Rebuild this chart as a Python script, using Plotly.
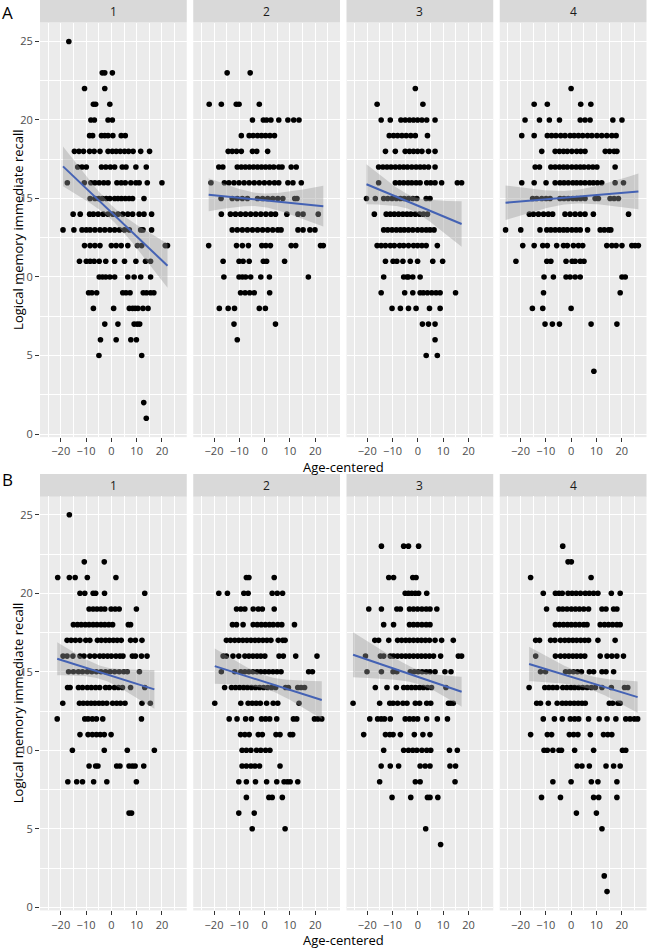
import numpy as np
import plotly.graph_objects as go

# ---------------- data ----------------
# Each panel: list of memory scores (rows) and, for each score, the age-centered values
A1_SCORE = [25, 23, 22, 21, 20, 19, 18, 17, 16, 15, 14, 13, 12, 11, 10, 9, 8, 7, 6, 5, 2, 1]
A1_AGE = [
    [-16.8],
    [-3.6, -2.6, 0.4],
    [-10.6, -2.6],
    [-7.1, -6.2, -0.6],
    [-8.1, -6.7, -1.3, 0.4],
    [-8.6, -7.4, -3.9, -2.6, -1.3, 0.6, 3.9, 5.5],
    [-14.6, -12.8, -11.0, -8.6, -6.8, -4.5, -1.3, 0.4, 1.9, 3.5, 5.2, 6.8, 8.6, 11.6, 15.1],
    [-13.3, -11.6, -9.9, -3.9, -2.2, -0.4, 1.3, 4.3, 5.8, 9.7, 13.8],
    [-17.4, -10.7, -8.1, -6.5, -4.8, -3.0, -1.3, 2.2, 3.9, 5.5, 7.7, 9.7, 11.0, 14.2, 20.0],
    [-8.4, -6.5, -5.0, -3.5, -2.0, -0.6, 1.3, 2.6, 4.0, 5.5, 7.0, 8.4, 12.9],
    [-15.1, -12.3, -8.6, -7.1, -5.2, -3.2, -1.3, 0.6, 2.6, 4.5, 6.5, 8.4, 11.0, 12.9, 15.9],
    [-19.1, -14.8, -11.6, -9.9, -8.4, -6.5, -4.5, -2.6, -0.6, 1.3, 3.2, 5.2, 7.1, 11.6, 12.5, 15.9],
    [-10.6, -8.4, -6.5, -4.5, 0.0, 1.9, 3.9, 6.5, 10.3, 12.0, 21.3, 22.2],
    [-12.6, -9.9, -8.4, -6.8, -4.8, -2.2, 1.3, 5.2, 9.7, 13.5, 15.5],
    [-4.8, -3.5, -2.2, -0.6, 1.3, 6.5, 9.0, 11.6, 15.5],
    [-9.0, -7.7, -5.8, 4.5, 5.8, 7.4, 12.6, 13.9, 15.5, 16.8],
    [-7.1, 0.9, 7.1, 8.4, 9.4, 10.5, 12.5, 14.5],
    [-2.6, 2.6, 9.0, 10.2, 11.2],
    [-4.3, 1.9, 7.7, 9.9],
    [-4.9, 12.0],
    [12.8],
    [13.8],
]

A2_SCORE = [23, 21, 20, 19, 18, 17, 16, 15, 14, 13, 12, 11, 10, 9, 8, 7, 6]
A2_AGE = [
    [-14.8, -5.7],
    [-21.9, -17.1, -11.2, -10.1, -2.1],
    [-4.8, -0.5, 0.8, 2.5, 5.6, 9.2, 11.5, 13.6],
    [-9.2, -6.1, -4.5, -2.8, -1.2, 0.4, 2.1, 3.9],
    [-14.4, -12.8, -11.1, -9.2, -4.8, -3.1, 1.2],
    [-18.1, -16.5, -10.8, -9.2, -7.6, -6.0, -4.4, -2.8, -1.2, 0.4, 2.0, 3.6, 5.6, 6.9, 10.5, 12.5],
    [-21.2, -15.9, -14.1, -12.1, -10.1, -8.1, -6.1, -4.1, -2.1, -0.1, 1.9, 3.9, 5.6, 9.2, 11.2, 14.5],
    [-17.2, -12.8, -10.8, -8.8, -6.8, -2.8, -0.8, 1.2, 3.2, 5.2, 7.2, 11.9, 12.8],
    [-17.1, -13.5, -11.5, -9.5, -7.5, -5.5, -3.5, -1.5, 0.5, 2.5, 4.3, 8.8, 13.2, 15.2, 21.2],
    [-12.8, -10.8, -8.8, -6.8, -4.8, -2.8, -0.8, 1.2, 3.2, 5.2, 6.5, 13.2, 15.2, 17.9, 19.9],
    [-22.1, -11.1, -8.8, -6.4, -1.1, 0.5, 2.3, 10.5, 12.3, 22.1, 23.2],
    [-16.4, -10.1, -8.5, -6.1, -0.5, 0.8, 7.9],
    [-16.1, -10.1, -8.8, -7.5, -5.5, -1.5, 1.9, 17.3],
    [-9.5, -7.7, -5.9, -4.1, 2.0],
    [-17.9, -14.4, -11.9, -2.1, 0.3],
    [-12.1, 4.3],
    [-10.8],
]

A3_SCORE = [22, 21, 20, 19, 18, 17, 16, 15, 14, 13, 12, 11, 10, 9, 8, 7, 6, 5]
A3_AGE = [
    [-1.0],
    [-16.1, 2.0],
    [-14.5, -10.9, -6.7, -5.0, -3.3, -1.7, -0.1, 1.6, 3.5, 6.8],
    [-11.3, -9.6, -8.0, -6.3, -4.6, -2.8, -1.0, 3.8],
    [-12.8, -8.9, -5.0, -3.3, -1.7, -0.1, 1.6, 4.2, 6.8],
    [-15.5, -13.8, -12.2, -10.6, -8.9, -7.2, -5.6, -4.1, -2.4, -0.7, 0.9, 2.5, 4.2, 6.8],
    [-15.5, -8.9, -7.2, -5.6, -3.9, -2.4, -0.7, 0.9, 3.5, 5.1, 6.8, 9.4, 15.6, 17.3],
    [-20.3, -16.8, -13.5, -11.9, -10.2, -8.5, -6.9, -5.4, -3.7, -2.0, -0.4, 3.3, 4.8],
    [-17.2, -12.5, -10.9, -9.3, -7.6, -5.9, -4.3, -2.8, -1.0, 0.7, 2.2, 3.8],
    [-13.5, -11.9, -10.2, -8.5, -6.9, -5.4, -3.7, -2.0, -0.1, 1.6, 3.3, 4.8, 6.4],
    [-16.1, -14.5, -12.8, -10.9, -9.3, -7.2, -5.6, -3.7, -1.7, -0.1, 1.6, 3.3, 7.7],
    [-12.8, -9.8, -8.3, -5.9, -3.0, -0.1, 5.9, 9.8],
    [-13.5, -5.6, -4.3, -3.7, -2.0, 0.9],
    [-14.5, -5.2, -2.0, 0.9, 2.2, 3.8, 5.5, 7.2, 8.8, 14.9],
    [-10.2, -6.9, -3.7, -0.7, 4.6, 8.8],
    [1.8, 4.2, 6.8],
    [6.8],
    [3.3, 7.7],
]

A4_SCORE = [22, 21, 20, 19, 18, 17, 16, 15, 14, 13, 12, 11, 10, 9, 8, 7, 4]
A4_AGE = [
    [0.0],
    [-14.6, -9.4, 3.8, 7.8],
    [-18.2, -12.5, -8.6, -4.6, 3.6, 5.5, 7.5, 16.5, 20.1],
    [-19.5, -14.6, -9.4, -7.7, -6.0, -4.1, -2.4, -0.4, 1.2, 2.9, 4.6, 6.5, 8.2, 10.2, 12.1, 14.1, 16.1, 17.8],
    [-11.6, -6.3, -4.6, -3.0, -1.5, 0.3, 2.2, 3.8, 5.5, 13.5, 15.2, 17.0, 18.1],
    [-14.2, -12.5, -8.0, -6.3, -4.6, -3.0, -1.5, 0.3, 2.0, 3.6, 5.1, 6.9, 8.6, 10.2, 17.4],
    [-19.5, -14.6, -9.9, -6.3, -4.4, -2.8, -1.1, 0.7, 2.2, 3.8, 5.5, 7.3, 8.8, 10.4, 12.1, 17.4, 20.7],
    [-15.2, -13.6, -11.6, -9.9, -8.3, -4.4, -2.8, -1.1, 0.7, 2.2, 3.8, 5.5, 9.5, 10.8, 15.4, 17.0, 18.7],
    [-16.5, -14.9, -12.9, -10.9, -9.0, -7.3, -2.4, -0.4, 1.6, 3.6, 5.5, 8.8, 22.7],
    [-25.9, -19.9, -12.3, -9.6, -8.0, -6.3, -4.6, -3.0, -1.5, 0.3, 2.0, 3.6, 6.5, 11.5, 13.1, 14.8, 15.7],
    [-19.1, -14.6, -11.2, -9.4, -5.7, -3.0, -1.5, 0.9, 2.9, 4.6, 14.1, 16.1, 17.8, 20.1, 24.0, 25.3, 26.6],
    [-21.8, -9.6, -8.0, -2.0, 0.4, 1.6, 3.6, 5.1],
    [-10.7, -7.0, -2.0, -0.4, 1.6, 3.6, 20.1, 21.4],
    [-10.9, 19.4],
    [-15.3, -11.2, 0.0],
    [-10.3, -7.4, -4.6, 7.9, 18.1],
    [9.0],
]

B1_SCORE = [25, 22, 21, 20, 19, 18, 17, 16, 15, 14, 13, 12, 11, 10, 9, 8, 6]
B1_AGE = [
    [-16.6],
    [-10.7, -2.8],
    [-21.2, -16.6, -14.3, -9.5, 1.8],
    [-12.4, -10.5, -7.2, -6.2, -2.7, 13.2],
    [-8.8, -7.2, -5.7, -4.1, -2.6, -0.1, 1.5, 3.1, 9.9],
    [-15.0, -13.4, -11.9, -10.3, -8.8, -7.2, -5.7, -4.1, -2.6, -1.0, 0.5, 6.7, 7.6],
    [-17.5, -15.9, -14.2, -12.4, -10.1, -8.5, -5.5, -4.0, -2.3, -0.8, 0.8, 2.3, 3.9, 7.6, 9.5, 12.1],
    [-19.1, -17.5, -15.2, -12.4, -10.8, -8.5, -6.6, -4.6, -3.1, -1.5, 0.0, 1.8, 3.4, 4.6, 8.3, 9.5, 11.9, 14.1],
    [-16.9, -15.0, -13.0, -11.4, -9.5, -7.7, -5.9, -4.1, -2.3, -0.5, 1.3, 3.1, 4.9, 6.3, 11.1],
    [-17.3, -16.3, -13.0, -11.4, -9.5, -7.9, -6.2, -4.6, -2.3, -0.8, 1.2, 2.8, 4.4, 7.6, 13.2],
    [-19.2, -12.6, -11.1, -9.5, -8.0, -6.5, -4.9, -3.4, -1.8, 0.5, 2.1, 3.6, 5.4, 12.1, 15.4],
    [-21.4, -10.5, -9.2, -7.5, -5.9, -3.4, 11.9],
    [-12.4, -9.2, -7.5, -5.9, -4.4, -2.8, -0.1],
    [-15.4, -2.8, 6.3, 17.0],
    [-8.8, -6.2, -5.3, 2.1, 3.4, 7.0, 8.3, 9.4, 12.8],
    [-17.2, -13.7, -11.4, -7.0, -1.8, 9.9],
    [7.0, 8.0],
]

B2_SCORE = [21, 20, 19, 18, 17, 16, 15, 14, 13, 12, 11, 10, 9, 8, 7, 6, 5]
B2_AGE = [
    [-7.2, -6.2, 3.8],
    [-18.1, -14.7, -8.2, -6.5, 3.0, 5.0, 7.1],
    [-11.1, -9.4, -7.8, -4.5, -2.5, -0.9, 3.8],
    [-12.7, -11.1, -8.5, -4.5, -2.9, -1.3, 0.3, 1.9, 3.4, 5.2, 6.8, 11.8],
    [-15.1, -13.5, -11.8, -10.2, -8.6, -7.0, -5.4, -3.8, -2.3, -0.7, 0.9, 2.5, 5.4, 7.2, 8.1],
    [-16.4, -15.1, -12.5, -10.2, -7.8, -6.2, -4.6, -3.0, -1.5, 0.1, 5.7, 7.4, 12.3, 20.7],
    [-17.1, -11.8, -9.4, -7.8, -6.2, -4.6, -3.0, -1.5, 0.1, 1.7, 3.3, 4.9, 6.5, 17.4, 18.9],
    [-15.8, -13.1, -11.5, -9.9, -8.3, -6.8, -5.2, -3.6, -2.0, -0.4, 1.2, 2.8, 4.4, 8.3, 9.4, 13.1, 14.4, 15.8],
    [-19.7, -9.4, -6.5, -4.9, -3.3, -1.7, 0.8, 3.4, 5.2, 13.6],
    [-14.0, -10.9, -7.5, -5.2, -1.2, 0.4, 2.0, 4.8, 11.4, 12.7, 19.7, 21.1, 22.6],
    [-9.5, -7.8, -6.1, -2.5, -0.9, 4.5, 6.1, 10.1, 11.1],
    [-8.9, -7.2, -5.4, -3.2, -1.5, 0.4, 2.1],
    [-8.9, -7.2, -5.4, -3.8, -2.0, 6.1],
    [-10.2, -7.2, -3.6, 0.8, 4.8, 7.7, 9.0, 10.1, 13.1],
    [-7.2, 1.7, 3.0, 7.0],
    [-10.2, -4.1],
    [-4.9, 8.1],
]

B3_SCORE = [23, 21, 20, 19, 18, 17, 16, 15, 14, 13, 12, 11, 10, 9, 8, 7, 5, 4]
B3_AGE = [
    [-14.4, -5.6, -3.7, 0.3],
    [-11.5, -9.6, -2.0, -0.7],
    [-5.0, -3.7, -2.4, -1.0, 0.3, 3.5],
    [-19.4, -14.4, -8.3, -6.9, -3.3, -1.7, -0.1, 1.6, 3.3, 4.8, 7.5],
    [-13.5, -9.6, -3.3, -1.7, -0.1, 1.6, 3.3, 4.8],
    [-17.0, -15.5, -11.5, -8.0, -6.4, -4.8, -3.3, -1.7, -0.1, 1.4, 3.0, 4.6, 6.8, 9.4, 14.0],
    [-20.7, -14.8, -13.5, -10.9, -9.6, -8.0, -6.4, -4.8, -3.3, -1.7, -0.1, 1.4, 3.0, 4.6, 6.2, 9.0, 16.0, 17.3],
    [-20.1, -14.4, -9.8, -8.3, -3.0, -1.4, 0.1, 1.7, 3.3, 4.8, 6.8, 10.7, 13.1],
    [-16.8, -12.2, -8.5, -5.6, -4.1, -2.5, -0.9, 0.7, 2.2, 3.8, 5.4, 11.1],
    [-25.6, -15.1, -11.1, -9.8, -8.0, -5.9, -4.3, -1.0, 0.7, 3.5, 5.1, 12.1, 13.0, 14.0],
    [-19.0, -15.9, -14.5, -13.2, -10.9, -5.0, -3.3, -1.7, -0.1, 3.5, 7.7, 11.7],
    [-21.4, -12.8, -11.1, -9.8, -6.9, -1.4, 2.0, 4.8],
    [-13.5, -5.6, -3.7, -2.0, -0.4, 1.6, 3.5, 5.1, 12.5, 15.6],
    [-14.5, -10.9, -7.6, 0.9, 2.9, 4.8, 12.7, 14.9],
    [-15.1, -1.0, 0.9, 14.7],
    [-10.2, -2.8, 3.8, 4.8, 7.9],
    [3.1],
    [9.0],
]

B4_SCORE = [23, 22, 21, 20, 19, 18, 17, 16, 15, 14, 13, 12, 11, 10, 9, 8, 7, 6, 5, 2, 1]
B4_AGE = [
    [-3.3],
    [-1.2, 0.1],
    [-16.0, 7.9],
    [-11.0, -6.2, -4.8, -3.5, -1.2, 0.4, 2.0, 3.7, 5.6, 7.2, 8.9, 10.6, 15.9, 19.4],
    [-9.7, -4.8, -3.3, -1.6, 0.1, 1.7, 3.3, 5.0, 6.9, 12.2, 13.8, 16.8, 18.1],
    [-6.2, -4.6, -3.0, -1.4, 0.1, 1.7, 3.3, 5.0, 6.3, 11.5, 13.2, 14.8, 16.4, 18.1, 19.4],
    [-14.0, -12.5, -8.1, -6.4, -4.2, -2.5, -0.9, 0.7, 2.2, 3.8, 5.4, 6.9, 10.6, 17.4],
    [-14.0, -6.2, -4.2, -2.5, -0.9, 0.7, 2.2, 3.8, 5.4, 11.5, 14.2, 16.1, 18.1, 20.7],
    [-12.1, -10.1, -2.2, -0.7, 0.9, 2.5, 4.1, 7.2, 8.9, 12.2, 13.8, 16.8],
    [-16.6, -10.4, -8.8, -7.2, -5.6, -3.3, -1.7, -0.1, 1.4, 3.0, 4.6, 6.3, 8.0, 9.6, 12.2, 15.9, 21.1, 22.4],
    [-13.6, -12.1, -9.0, -5.5, -3.5, -2.0, -0.4, 1.2, 2.8, 4.3, 5.6, 15.1, 16.4, 18.5, 19.4],
    [-11.0, -6.6, -3.5, -0.3, 1.4, 3.0, 6.9, 11.1, 14.2, 17.7, 21.6, 23.3, 25.0, 26.3],
    [-16.0, -9.4, -7.7, -0.7, 1.0, 2.7, 7.6, 12.8, 14.5, 16.1],
    [-10.7, -9.4, -7.2, -4.8, -3.8, 1.4, 8.9, 20.3, 21.6],
    [2.4, 4.3, 7.2, 13.8, 16.8, 19.4],
    [-7.2, 0.0, 8.0, 10.6, 18.1],
    [-11.7, -4.2, 8.9, 10.9, 18.1],
    [2.1, 10.0],
    [12.2],
    [13.1],
    [14.2],
]

# Linear fit (geom_smooth): line end points and band half-widths
FIT_X_START = [-19.0, -21.9, -19.8, -25.7, -21.2, -19.7, -25.6, -16.6]
FIT_X_END = [21.9, 23.2, 16.9, 26.0, 17.0, 22.6, 16.9, 26.0]
FIT_Y_START = [17.03, 15.23, 15.87, 14.73, 15.82, 15.36, 16.08, 15.50]
FIT_Y_END = [10.76, 14.51, 13.40, 15.44, 13.88, 13.20, 13.75, 13.40]
FIT_HW_START = [1.27, 1.05, 1.27, 1.10, 1.05, 1.13, 1.43, 1.10]
FIT_HW_END = [1.40, 1.30, 1.45, 1.14, 1.24, 1.20, 0.95, 1.00]
FIT_HW_MIN = [0.45, 0.42, 0.45, 0.42, 0.42, 0.42, 0.45, 0.42]

FACET_LABELS = ["1", "2", "3", "4"]
ROW_LABELS = ["A", "B"]
X_TICKS = [-20, -10, 0, 10, 20]
X_MINOR = [-25, -15, -5, 5, 15, 25]
Y_TICKS = [0, 5, 10, 15, 20, 25]
Y_MINOR = [2.5, 7.5, 12.5, 17.5, 22.5]
X_TITLE = "Age-centered"
Y_TITLE = "Logical memory immediate recall"

PANEL_DATA = [
    (A1_SCORE, A1_AGE), (A2_SCORE, A2_AGE), (A3_SCORE, A3_AGE), (A4_SCORE, A4_AGE),
    (B1_SCORE, B1_AGE), (B2_SCORE, B2_AGE), (B3_SCORE, B3_AGE), (B4_SCORE, B4_AGE),
]

# ---------------- layout geometry (pixels) ----------------
W, H = 647, 952
COL_LEFT = [40.0, 193.25, 346.5, 499.75]
COL_W = 146.75
ROW_TOP = [22.7, 498.0]
ROW_H = 416.3
STRIP_TOP = [0.0, 476.0]
STRIP_H = 22.7
X_RANGE = [-28.2, 29.8]
Y_RANGE = [-0.2, 26.2]

FONT = "Open Sans"
LINE_BLUE = "#4462B4"


def fx(p):
    return p / W


def fy(p):
    return 1 - p / H


def band(x0, x1, y0, y1, h0, h1, hm, n=80):
    xs = np.linspace(x0, x1, n)
    a0 = max(h0 ** 2 - hm ** 2, 1e-6)
    a1 = max(h1 ** 2 - hm ** 2, 1e-6)
    r = np.sqrt(a0 / a1)
    xc = (x0 + r * x1) / (1 + r)
    k = a0 / (xc - x0) ** 2
    h = np.sqrt(hm ** 2 + k * (xs - xc) ** 2)
    yl = y0 + (y1 - y0) * (xs - x0) / (x1 - x0)
    return xs, yl - h, yl + h, yl


fig = go.Figure()
layout = dict(
    width=W, height=H,
    margin=dict(l=0, r=0, t=0, b=0),
    paper_bgcolor="white",
    plot_bgcolor="#EBEBEB",
    showlegend=False,
    font=dict(family=FONT, color="#4D4D4D"),
)

shapes = []
annotations = []

for i, (scores, ages) in enumerate(PANEL_DATA):
    row, col = divmod(i, 4)
    sfx = "" if i == 0 else str(i + 1)
    xa, ya = "x" + sfx, "y" + sfx

    xs, ys = [], []
    for s, row_ages in zip(scores, ages):
        xs.extend(row_ages)
        ys.extend([s] * len(row_ages))

    fig.add_trace(go.Scatter(
        x=xs, y=ys, mode="markers", xaxis=xa, yaxis=ya,
        marker=dict(color="black", size=5.6, line=dict(width=0)),
        hoverinfo="skip",
    ))

    # fit over data range
    dmin, dmax = min(xs), max(xs)
    slope = (FIT_Y_END[i] - FIT_Y_START[i]) / (FIT_X_END[i] - FIT_X_START[i])
    ys0 = FIT_Y_START[i] + slope * (dmin - FIT_X_START[i])
    ys1 = FIT_Y_START[i] + slope * (dmax - FIT_X_START[i])
    bx, lo, hi, yl = band(dmin, dmax, ys0, ys1, FIT_HW_START[i], FIT_HW_END[i], FIT_HW_MIN[i])
    fig.add_trace(go.Scatter(
        x=np.concatenate([bx, bx[::-1]]), y=np.concatenate([hi, lo[::-1]]),
        mode="lines", fill="toself", fillcolor="rgba(153,153,153,0.4)",
        line=dict(width=0), xaxis=xa, yaxis=ya, hoverinfo="skip",
    ))
    fig.add_trace(go.Scatter(
        x=bx, y=yl, mode="lines", line=dict(color=LINE_BLUE, width=2),
        xaxis=xa, yaxis=ya, hoverinfo="skip",
    ))

    left = COL_LEFT[col]
    top = ROW_TOP[row]
    layout["xaxis" + sfx] = dict(
        domain=[fx(left), fx(left + COL_W)],
        range=X_RANGE, anchor=ya,
        tickvals=X_TICKS, ticks="outside", ticklen=4, tickwidth=1, tickcolor="#333333",
        tickfont=dict(size=11, color="#4D4D4D", family=FONT),
        showgrid=True, gridcolor="white", gridwidth=1.1,
        minor=dict(tickvals=X_MINOR, showgrid=True, gridcolor="white", gridwidth=0.55, ticks=""),
        zeroline=False, showline=False, fixedrange=True,
    )
    layout["yaxis" + sfx] = dict(
        domain=[fy(top + ROW_H), fy(top)],
        range=Y_RANGE, anchor=xa,
        tickvals=Y_TICKS,
        ticks="outside" if col == 0 else "", ticklen=4, tickwidth=1, tickcolor="#333333",
        showticklabels=(col == 0),
        tickfont=dict(size=11, color="#4D4D4D", family=FONT),
        showgrid=True, gridcolor="white", gridwidth=1.1,
        minor=dict(tickvals=Y_MINOR, showgrid=True, gridcolor="white", gridwidth=0.55, ticks=""),
        zeroline=False, showline=False, fixedrange=True,
    )

    # strip
    st = STRIP_TOP[row]
    shapes.append(dict(
        type="rect", xref="paper", yref="paper",
        x0=fx(left), x1=fx(left + COL_W), y0=fy(st + STRIP_H), y1=fy(st),
        fillcolor="#D9D9D9", line=dict(width=0), layer="below",
    ))
    annotations.append(dict(
        text=FACET_LABELS[col], xref="paper", yref="paper",
        x=fx(left + COL_W / 2), y=fy(st + STRIP_H / 2),
        xanchor="center", yanchor="middle", showarrow=False,
        font=dict(size=12, color="#1A1A1A", family=FONT),
    ))

# axis titles and row tags
X_TITLE_Y = [468.5, 943.5]
for row in range(2):
    annotations.append(dict(
        text=X_TITLE, xref="paper", yref="paper",
        x=fx((COL_LEFT[0] + COL_LEFT[3] + COL_W) / 2), y=fy(X_TITLE_Y[row]),
        xanchor="center", yanchor="middle", showarrow=False,
        font=dict(size=13, color="black", family=FONT),
    ))
    annotations.append(dict(
        text=Y_TITLE, xref="paper", yref="paper",
        x=fx(18), y=fy(ROW_TOP[row] + ROW_H / 2), textangle=-90,
        xanchor="center", yanchor="middle", showarrow=False,
        font=dict(size=13, color="black", family=FONT),
    ))
ROW_TAG_Y = [12.5, 482.0]
for row in range(2):
    annotations.append(dict(
        text=ROW_LABELS[row], xref="paper", yref="paper",
        x=fx(7.5), y=fy(ROW_TAG_Y[row]),
        xanchor="center", yanchor="middle", showarrow=False,
        font=dict(size=17, color="black", family=FONT),
    ))

layout["shapes"] = shapes
layout["annotations"] = annotations
fig.update_layout(**layout)

fig.write_html(
    "out.html",
    config={"displayModeBar": False},
    post_script="document.body.style.margin='0px';document.body.style.overflow='hidden';",
)
